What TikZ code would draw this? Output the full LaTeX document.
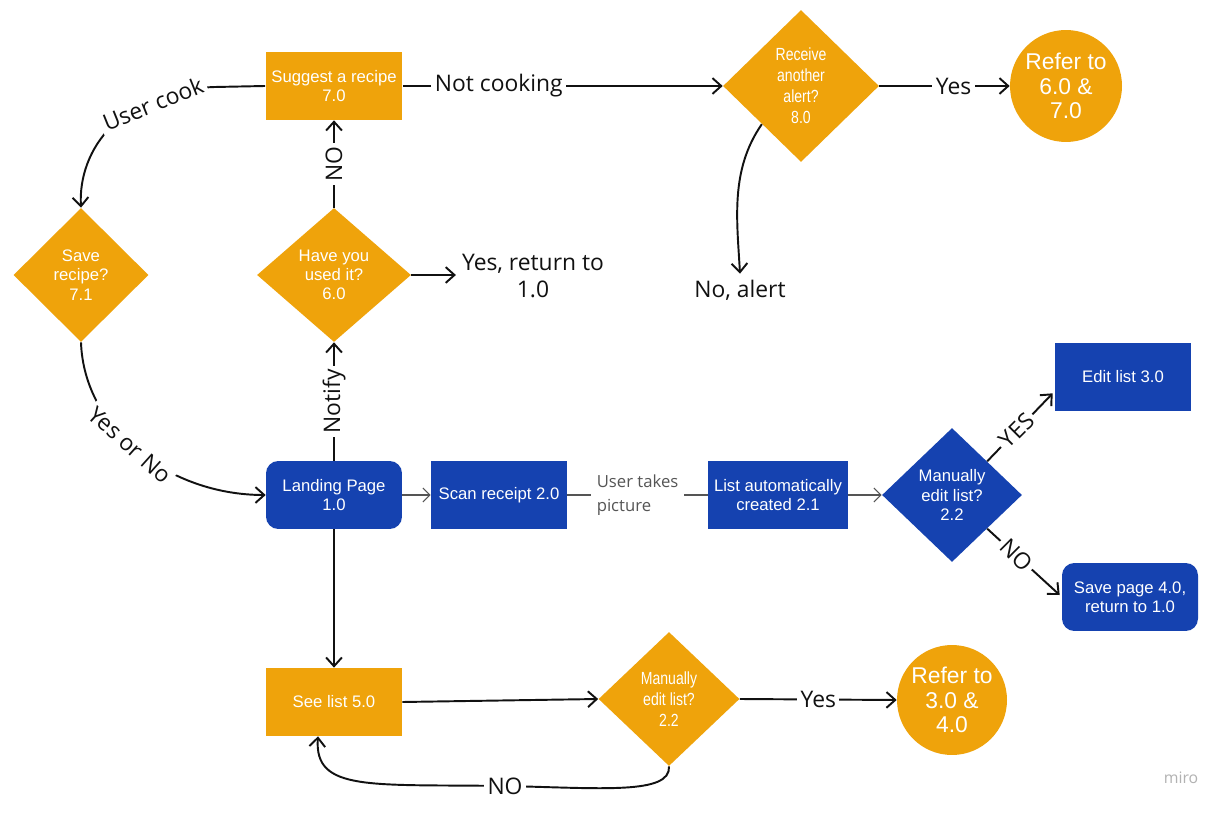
\documentclass[tikz,border=0pt]{standalone}
\usepackage{fontspec}
\setmainfont{Liberation Sans}
\newfontfamily\labelfont{Open Sans}
\newfontfamily\narrowfont[FakeStretch=0.8]{Liberation Sans}
\usepackage{tikz}
\usetikzlibrary{shapes.geometric, arrows.meta, positioning, calc}
\definecolor{ambercolor}{HTML}{EFA30B}
\definecolor{royalcolor}{HTML}{1542B0}
\definecolor{inkcolor}{HTML}{111111}
\definecolor{fogcolor}{HTML}{555555}

\begin{document}
\begin{tikzpicture}[x=0.02cm, y=-0.02cm,
  ambox/.style={rectangle, fill=ambercolor, text=white, align=center,
    minimum width=2.72cm, minimum height=1.36cm, font=\fontsize{9.5}{11}\selectfont},
  roybox/.style={ambox, fill=royalcolor},
  royround/.style={roybox, rounded corners=7pt},
  amdiamond/.style={diamond, fill=ambercolor, text=white, align=center, inner sep=0pt,
    font=\fontsize{9.5}{11}\selectfont},
  roydiamond/.style={amdiamond, fill=royalcolor},
  amcircle/.style={circle, fill=ambercolor, text=white, align=center, inner sep=0pt,
    font=\fontsize{13}{14}\selectfont},
  flow/.style={-{Straight Barb[length=5pt, width=9pt]}, line width=1.1pt, color=inkcolor},
  thinflow/.style={-{Straight Barb[length=4pt, width=8pt]}, line width=0.6pt, color=fogcolor},
  edgelabel/.style={fill=white, inner sep=2pt, text=inkcolor, font=\labelfont\fontsize{13}{15}\selectfont},
  plaintext/.style={text=inkcolor, align=center, font=\labelfont\fontsize{13}{15}\selectfont}]
  \useasboundingbox[fill=white] (0,0) rectangle (1229,813);

  % top row
  \node[ambox] (suggest) at (334,86) {Suggest a recipe\\7.0};
  \node[amdiamond, minimum width=3.12cm, minimum height=3.04cm,
    font=\narrowfont\fontsize{10}{12}\selectfont] (receive) at (801,86)
    {Receive\\another\\alert?\\8.0};
  \node[amcircle, minimum size=2.24cm] (refertop) at (1066,86)
    {Refer to\\6.0 \&\\7.0};

  % middle row
  \node[amdiamond, minimum width=2.7cm, minimum height=2.68cm] (saverecipe) at (81,275)
    {Save\\recipe?\\7.1};
  \node[amdiamond, minimum width=3.08cm, minimum height=2.68cm] (usedit) at (334,275)
    {Have you\\used it?\\6.0};
  \node[plaintext] (yesreturn) at (533,276) {Yes, return to\\1.0};
  \node[plaintext] (noalert) at (740,290) {No, alert};

  % landing row
  \node[roybox] (editlist) at (1123,377) {Edit list 3.0};
  \node[royround] (landing) at (334,495) {Landing Page\\1.0};
  \node[roybox] (scan) at (499,495) {Scan receipt 2.0};
  \node[roybox] (autolist) at (778,495) {List automatically\\created 2.1};
  \node[roydiamond, minimum width=2.8cm, minimum height=2.68cm] (manualblue) at (952,495)
    {Manually\\edit list?\\2.2};
  \node[royround] (savepage) at (1130,597) {Save page 4.0,\\return to 1.0};

  % bottom row
  \node[ambox] (seelist) at (334,702) {See list 5.0};
  \node[amdiamond, minimum width=2.82cm, minimum height=2.68cm,
    font=\narrowfont\fontsize{10}{12}\selectfont] (manualamber) at (669,699)
    {Manually\\edit list?\\2.2};
  \node[amcircle, minimum size=2.2cm] (referbottom) at (952,700)
    {Refer to\\3.0 \&\\4.0};
  \node[text=black!30, font=\labelfont\fontsize{9}{11}\selectfont] (miro) at (1181,778) {miro};

  % connectors
  \draw[flow] (suggest.west) -- (215,87) .. controls (120,90) and (78,150) .. (saverecipe.north);
  \node[edgelabel, rotate=22] (lblcook) at (153,104) {User cook};
  \draw[flow] (suggest.east) -- (receive.west)
    node[edgelabel, pos=0.3] (lblnotcook) {Not cooking};
  \draw[flow] (receive.east) -- (refertop.west)
    node[edgelabel, pos=0.57] (lblyestop) {Yes};
  \draw[flow] (receive.south west) .. controls (730,170) and (737,220) .. (noalert.north);
  \draw[flow] (usedit.north) -- (suggest.south)
    node[edgelabel, midway, rotate=90] (lblno) {NO};
  \draw[flow] (usedit.east) -- (yesreturn.west |- usedit.east);
  \draw[flow] (saverecipe.south) .. controls (84,430) and (170,495) .. (landing.west);
  \node[edgelabel, rotate=-42] (lblyesno) at (130,445) {Yes or No};
  \draw[flow] (landing.north) -- (usedit.south)
    node[edgelabel, midway, rotate=90] (lblnotify) {Notify};
  \draw[thinflow] (landing.east) -- (scan.west);
  \draw[line width=0.6pt, fogcolor] (scan.east) -- (autolist.west)
    node[fill=white, midway, align=left, text=fogcolor,
      font=\labelfont\fontsize{9.5}{14}\selectfont] (lblpicture) {User takes\\ picture};
  \draw[thinflow] (autolist.east) -- (manualblue.west);
  \draw[flow] (manualblue.north east) -- ($(editlist.south west)+(-2,-18)$)
    node[edgelabel, pos=0.45, rotate=45] (lblyesblue) {YES};
  \draw[flow] (manualblue.south east) -- ($(savepage.west)+(-2,-2)$)
    node[edgelabel, pos=0.4, rotate=-45] (lblnoblue) {NO};
  \draw[flow] (landing.south) -- (seelist.north);
  \draw[flow] (seelist.east) -- (manualamber.west);
  \draw[flow] (manualamber.east) -- (referbottom.west)
    node[edgelabel, pos=0.5] (lblyesbottom) {Yes};
  \draw[flow] (manualamber.south) .. controls (671,795) and (600,788) .. (505,786)
    .. controls (370,784) and (314,792) .. ($(seelist.south)+(-16,0)$);
  \node[edgelabel] (lblnobottom) at (505,786) {NO};
\end{tikzpicture}
\end{document}
